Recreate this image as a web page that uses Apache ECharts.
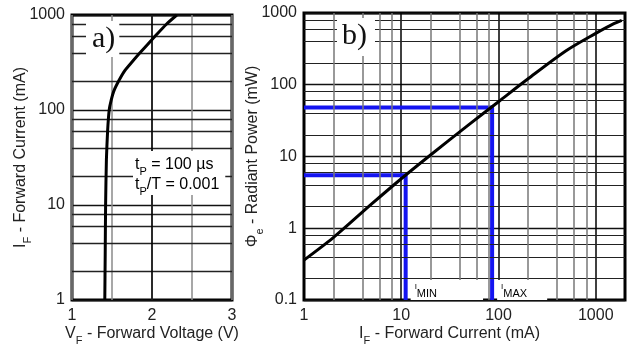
<!DOCTYPE html>
<html><head><meta charset="utf-8">
<script src="https://cdn.jsdelivr.net/npm/echarts@6/dist/echarts.min.js"></script>
<style>html,body{margin:0;padding:0;background:#fff}#c{width:633px;height:347px}</style>
</head><body><div id="c"></div>
<script>
// ---- data ----
const vfVoltage = [1.41, 1.415, 1.42, 1.43, 1.445, 1.465, 1.49, 1.525, 1.59, 1.66, 1.75, 1.85, 2.04, 2.18, 2.31];
const vfCurrent = [1, 3, 10, 30, 60, 100, 127, 160, 207, 260, 320, 400, 600, 800, 1000];
const peCurrent = [1, 2, 5, 10, 20, 50, 100, 200, 500, 1000, 1500, 1850];
const pePower   = [0.36, 0.74, 2.2, 4.9, 10.5, 28, 58, 120, 300, 520, 700, 790];
const iMinCurrent = 11.1, iMinPower = 5.5;
const iMaxCurrent = 86,   iMaxPower = 48;
const leftXTicks  = [1, 2, 3];
const leftYTicks  = [1, 10, 100, 1000];
const rightXTicks = [1, 10, 100, 1000];
const rightYTicks = [0.1, 1, 10, 100, 1000];
const gridMultipliers = [2, 4, 6, 8];
const leftYDecades  = [1, 10, 100];
const rightXDecades = [1, 10, 100];
const rightYDecades = [0.1, 1, 10, 100];

const FONT = "'Liberation Sans', Arial, sans-serif";
const minorVals = (decs) => decs.flatMap(d => gridMultipliers.map(m => +(d * m).toPrecision(6)));
const isTick = (arr) => (v) => arr.some(t => Math.abs(Math.log10(v) - Math.log10(t)) < 1e-6);
const near = (arr) => (v) => arr.some(t => Math.abs(v - t) < 1e-6);

const nameRich = {
  n: {fontSize: 16, fontFamily: FONT, color: '#222', lineHeight: 20, verticalAlign: 'bottom'},
  s: {fontSize: 11, fontFamily: FONT, color: '#222', lineHeight: 14, verticalAlign: 'bottom', padding: [0, 0, -4, 0]}
};
const labelStyle = {fontSize: 16, fontFamily: FONT, color: '#222'};

function pair(xs, ys) { return xs.map((x, i) => [x, ys[i]]); }
function hLines(vals, color, w) { return vals.map(v => ({yAxis: v, lineStyle: {color, width: w, type: 'solid'}})); }
function vLines(vals, color, w) { return vals.map(v => ({xAxis: v, lineStyle: {color, width: w, type: 'solid'}})); }

const chart = echarts.init(document.getElementById('c'), null, {renderer: 'canvas'});
const gridCommon = {show: true, borderColor: '#000', borderWidth: 3, backgroundColor: '#fff', containLabel: false, outerBoundsMode: 'none'};
const option = {
  animation: false,
  backgroundColor: '#fff',
  grid: [
    Object.assign({left: 72, top: 15, width: 160, height: 285}, gridCommon),
    Object.assign({left: 304, top: 13, width: 321, height: 287}, gridCommon)
  ],
  xAxis: [
    {gridIndex: 0, type: 'value', min: 1, max: 3, interval: 0.5,
     name: '{n|V}{s|F}{n| - Forward Voltage (V)}', nameLocation: 'middle', nameGap: 22, nameMoveOverlap: false,
     nameTextStyle: {rich: nameRich},
     axisLine: {show: false}, axisTick: {show: false},
     axisLabel: {margin: 8, ...labelStyle, formatter: v => near(leftXTicks)(v) ? String(v) : ''},
     splitLine: {show: true, lineStyle: {color: '#8a8a8a', width: 1.5}}},
    {gridIndex: 1, type: 'log', logBase: 10, min: 1, max: 2000,
     name: '{n|I}{s|F}{n| - Forward Current (mA)}', nameLocation: 'middle', nameGap: 22, nameMoveOverlap: false,
     nameTextStyle: {rich: nameRich, padding: [0, 30, 0, 0]},
     axisLine: {show: false}, axisTick: {show: false},
     axisLabel: {margin: 8, ...labelStyle, showMaxLabel: false, formatter: v => isTick(rightXTicks)(v) ? String(Math.round(v)) : ''},
     splitLine: {show: true, lineStyle: {color: '#000', width: 1.5}}}
  ],
  yAxis: [
    {gridIndex: 0, type: 'log', logBase: 10, min: 1, max: 1000,
     name: '{n|I}{s|F}{n| - Forward Current (mA)}', nameLocation: 'middle', nameGap: 43, nameRotate: 90, nameMoveOverlap: false,
     nameTextStyle: {rich: nameRich},
     axisLine: {show: false}, axisTick: {show: false},
     axisLabel: {margin: 7, ...labelStyle, formatter: v => isTick(leftYTicks)(v) ? String(Math.round(v)) : ''},
     splitLine: {show: true, lineStyle: {color: '#111', width: 1.3}}},
    {gridIndex: 1, type: 'log', logBase: 10, min: 0.1, max: 1000,
     name: '{n|Φ}{s|e}{n| - Radiant Power (mW)}', nameLocation: 'middle', nameGap: 43, nameRotate: 90, nameMoveOverlap: false,
     nameTextStyle: {rich: nameRich},
     axisLine: {show: false}, axisTick: {show: false},
     axisLabel: {margin: 7, ...labelStyle, formatter: v => isTick(rightYTicks)(v) ? (v < 1 ? '0.1' : String(Math.round(v))) : ''},
     splitLine: {show: true, lineStyle: {color: '#111', width: 1.3}}}
  ],
  series: [
    {type: 'line', xAxisIndex: 0, yAxisIndex: 0, data: [], z: 1, silent: true,
     markLine: {silent: true, symbol: ['none', 'none'], label: {show: false}, animation: false,
       data: [...hLines(minorVals(leftYDecades), '#222', 1.3), ...vLines([2], '#000', 1.5)]}},
    {type: 'line', xAxisIndex: 1, yAxisIndex: 1, data: [], z: 1, silent: true,
     markLine: {silent: true, symbol: ['none', 'none'], label: {show: false}, animation: false,
       data: [...hLines(minorVals(rightYDecades), '#222', 1.1), ...vLines(minorVals(rightXDecades), '#777', 1.5)]}},
    {name: 'IF-VF', type: 'line', xAxisIndex: 0, yAxisIndex: 0, smooth: 0.2, showSymbol: false, z: 5,
     lineStyle: {color: '#000', width: 3}, data: pair(vfVoltage, vfCurrent)},
    {name: 'IMIN', type: 'line', xAxisIndex: 1, yAxisIndex: 1, showSymbol: false, z: 4,
     lineStyle: {color: '#1414f0', width: 4}, data: [[1, iMinPower], [iMinCurrent, iMinPower], [iMinCurrent, 0.1]]},
    {name: 'IMAX', type: 'line', xAxisIndex: 1, yAxisIndex: 1, showSymbol: false, z: 4,
     lineStyle: {color: '#1414f0', width: 4}, data: [[1, iMaxPower], [iMaxCurrent, iMaxPower], [iMaxCurrent, 0.1]]},
    {name: 'Phi-IF', type: 'line', xAxisIndex: 1, yAxisIndex: 1, smooth: 0.3, showSymbol: false, z: 5,
     lineStyle: {color: '#000', width: 3}, data: pair(peCurrent, pePower)}
  ]
};
chart.setOption(option);

const pMin = chart.convertToPixel({xAxisIndex: 1, yAxisIndex: 1}, [iMinCurrent, 0.1]);
const pMax = chart.convertToPixel({xAxisIndex: 1, yAxisIndex: 1}, [iMaxCurrent, 0.1]);
const subRich = {
  i: {fontSize: 8, fontFamily: FONT, color: '#2a2ad8', verticalAlign: 'top', lineHeight: 14},
  m: {fontSize: 11, fontFamily: FONT, color: '#2a2ad8', verticalAlign: 'bottom', lineHeight: 14, padding: [0, 0, -2, 0]}
};
const boxText = (x, y, text, extra) => ({type: 'text', x, y, z: 50, style: Object.assign({text, backgroundColor: '#fff'}, extra)});
chart.setOption({
  graphic: [
    boxText(86, 21, 'a)', {font: "30px 'Liberation Serif', 'Times New Roman', serif", fill: '#111', padding: [3, 4, 3, 6]}),
    boxText(337, 18, 'b)', {font: "30px 'Liberation Serif', 'Times New Roman', serif", fill: '#111', padding: [3, 8, 5, 5]}),
    boxText(133, 151, '{n|t}{s|P}{n| = 100 µs}\n{n|t}{s|P}{n|/T = 0.001}', {rich: nameRich, align: 'left', padding: [2, 6, 2, 2]}),
    boxText(pMin[0] + 5, pMin[1] - 20, '{i|I}{m|MIN}', {rich: subRich, padding: [3, 46, 3, 4]}),
    boxText(pMax[0] + 5, pMax[1] - 20, '{i|I}{m|MAX}', {rich: subRich, padding: [3, 20, 3, 4]})
  ]
});
</script></body></html>
